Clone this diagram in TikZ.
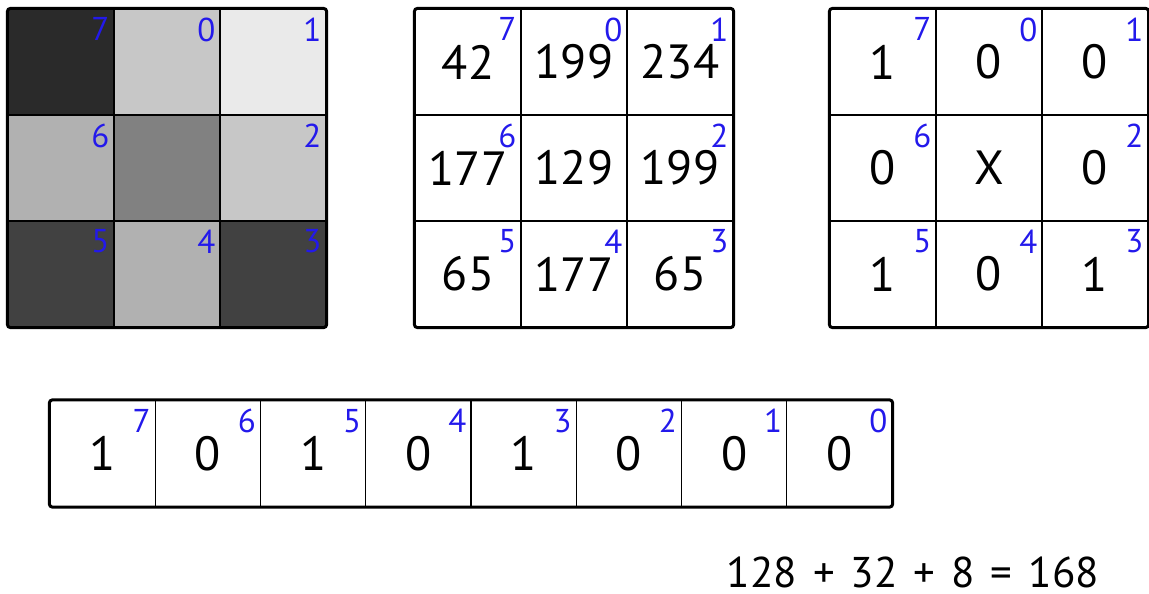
\documentclass[tikz,border=0pt]{standalone}
\usepackage{fontspec}
\setmainfont{PT Sans}
\definecolor{idxblue}{RGB}{35,25,235}
\definecolor{v42}{RGB}{42,42,42}
\definecolor{v65}{RGB}{65,65,65}
\definecolor{v129}{RGB}{129,129,129}
\definecolor{v177}{RGB}{177,177,177}
\definecolor{v199}{RGB}{199,199,199}
\definecolor{v234}{RGB}{234,234,234}
\begin{document}
\begin{tikzpicture}[x=1pt,y=-1pt,
  cell/.style={draw,line width=1.2pt,minimum width=106pt,minimum height=106pt,inner sep=0pt,font=\fontsize{48}{48}\selectfont},
  bitcell/.style={cell,minimum width=105.25pt},
  idx/.style={text=idxblue,font=\fontsize{33}{33}\selectfont,inner sep=0pt,anchor=north east,xshift=-5pt,yshift=-9pt},
  frame/.style={draw,line width=3pt,rounded corners=3pt}]
\useasboundingbox (0,0) rectangle (1149,594);
% grey pixels
\node[cell,fill=v42,label={[idx]45:7}] (gray7) at (61,62) {};
\node[cell,fill=v199,label={[idx]45:0}] (gray0) at (167,62) {};
\node[cell,fill=v234,label={[idx]45:1}] (gray1) at (273,62) {};
\node[cell,fill=v177,label={[idx]45:6}] (gray6) at (61,168) {};
\node[cell,fill=v129] (grayc) at (167,168) {};
\node[cell,fill=v199,label={[idx]45:2}] (gray2) at (273,168) {};
\node[cell,fill=v65,label={[idx]45:5}] (gray5) at (61,274) {};
\node[cell,fill=v177,label={[idx]45:4}] (gray4) at (167,274) {};
\node[cell,fill=v65,label={[idx]45:3}] (gray3) at (273,274) {};
\draw[frame] (gray7.north west) rectangle (gray3.south east);
% values
\node[cell,label={[idx]45:7}] (val7) at (468,62) {42};
\node[cell,label={[idx]45:0}] (val0) at (574,62) {199};
\node[cell,label={[idx]45:1}] (val1) at (680,62) {234};
\node[cell,label={[idx]45:6}] (val6) at (468,168) {177};
\node[cell] (valc) at (574,168) {129};
\node[cell,label={[idx]45:2}] (val2) at (680,168) {199};
\node[cell,label={[idx]45:5}] (val5) at (468,274) {65};
\node[cell,label={[idx]45:4}] (val4) at (574,274) {177};
\node[cell,label={[idx]45:3}] (val3) at (680,274) {65};
\draw[frame] (val7.north west) rectangle (val3.south east);
% thresholded
\node[cell,label={[idx]45:7}] (bit7) at (883,62) {1};
\node[cell,label={[idx]45:0}] (bit0) at (989,62) {0};
\node[cell,label={[idx]45:1}] (bit1) at (1095,62) {0};
\node[cell,label={[idx]45:6}] (bit6) at (883,168) {0};
\node[cell] (bitc) at (989,168) {X};
\node[cell,label={[idx]45:2}] (bit2) at (1095,168) {0};
\node[cell,label={[idx]45:5}] (bit5) at (883,274) {1};
\node[cell,label={[idx]45:4}] (bit4) at (989,274) {0};
\node[cell,label={[idx]45:3}] (bit3) at (1095,274) {1};
\draw[frame] (bit7.north west) rectangle (bit3.south east);
% binary code
\node[bitcell,label={[idx]45:7}] (code7) at (102.6,453.5) {1};
\node[bitcell,label={[idx]45:6}] (code6) at (207.9,453.5) {0};
\node[bitcell,label={[idx]45:5}] (code5) at (313.1,453.5) {1};
\node[bitcell,label={[idx]45:4}] (code4) at (418.4,453.5) {0};
\node[bitcell,label={[idx]45:3}] (code3) at (523.6,453.5) {1};
\node[bitcell,label={[idx]45:2}] (code2) at (628.9,453.5) {0};
\node[bitcell,label={[idx]45:1}] (code1) at (734.1,453.5) {0};
\node[bitcell,label={[idx]45:0}] (code0) at (839.4,453.5) {0};
\draw[frame] (code7.north west) rectangle (code0.south east);
\node[font=\fontsize{43}{43}\selectfont,inner sep=0pt,anchor=base] (sum) at (913,587) {\spaceskip=16pt\relax 128 + 32 + 8 = 168};
\end{tikzpicture}
\end{document}
